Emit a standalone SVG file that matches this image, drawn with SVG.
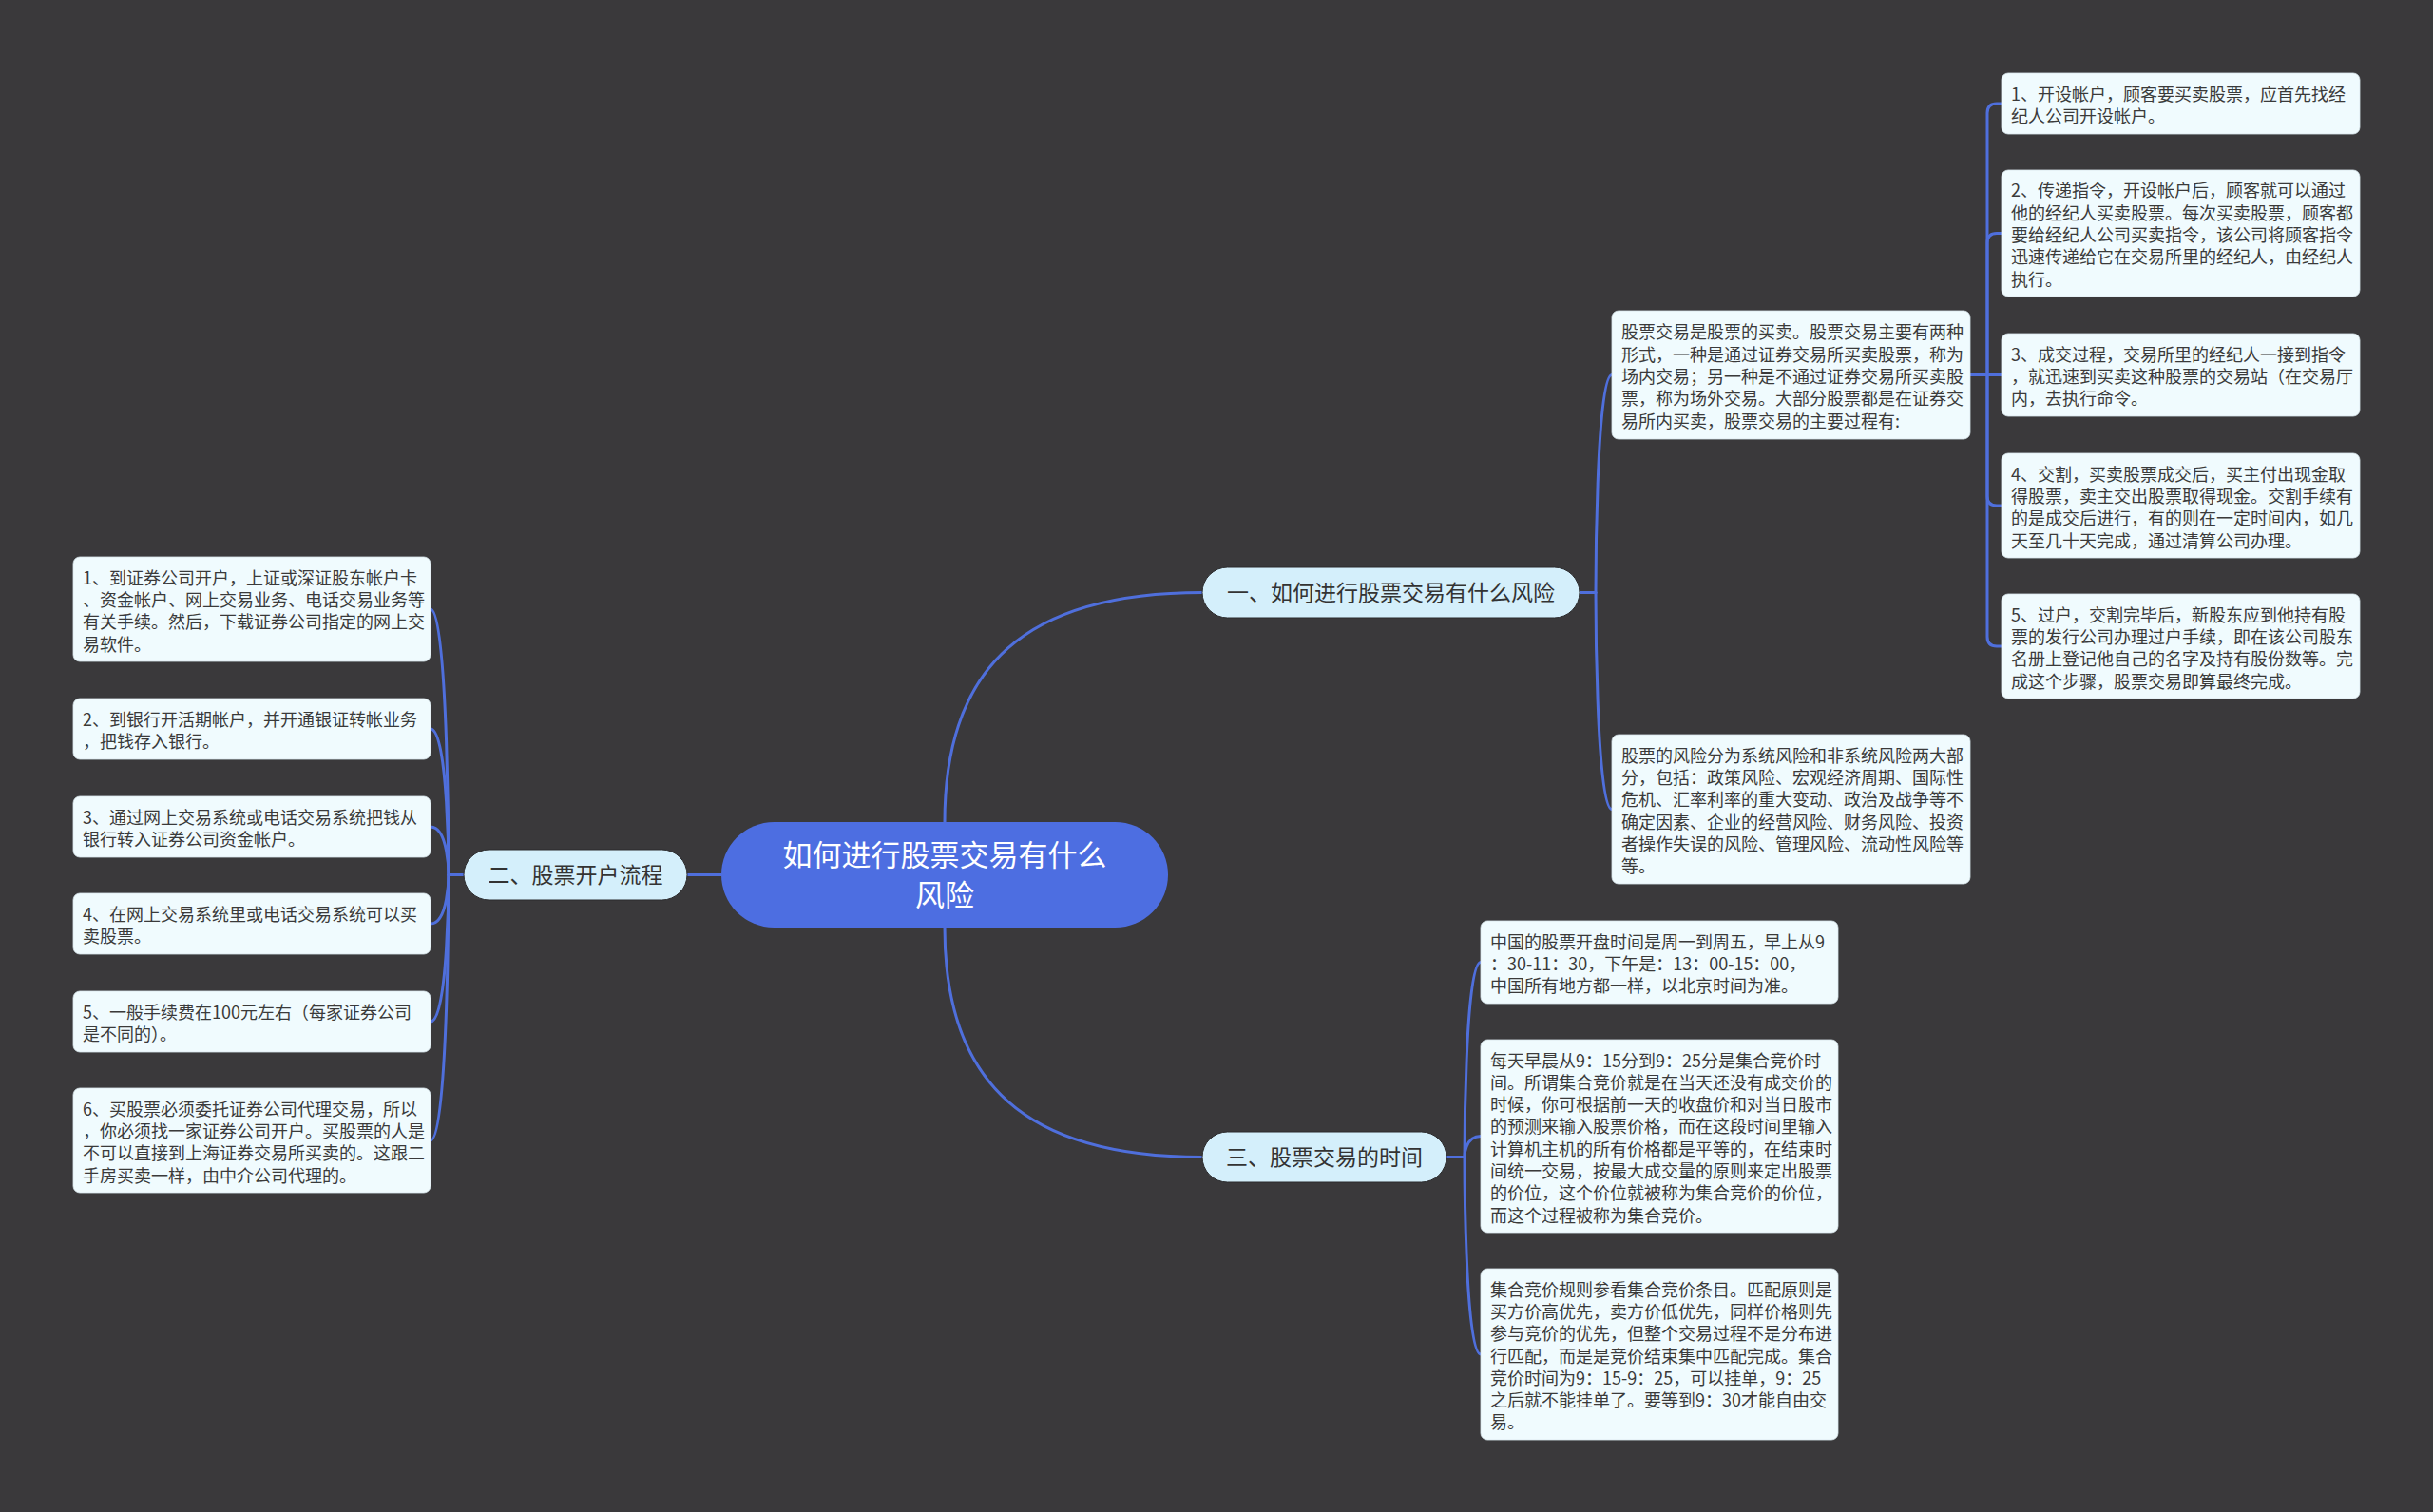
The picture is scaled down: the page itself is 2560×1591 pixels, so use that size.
<svg xmlns="http://www.w3.org/2000/svg" width="2560" height="1591" viewBox="0 0 2560 1591">
<style>
.bg{fill:#3a393b}
.ln{fill:none;stroke:#4f6fdc;stroke-width:3;stroke-linecap:round}
.leaf{fill:#f0fbfe;stroke:#d8e6ec;stroke-width:0.8}
.br{fill:#d4effb;stroke:#2a2a2c;stroke-width:1}
.ctr{fill:#4d6ee1}
.lt{font-family:"Noto Sans CJK SC","Noto Sans",sans-serif;font-size:18px;fill:#3a3a3a}
.bt{font-family:"Noto Sans CJK SC","Noto Sans",sans-serif;font-size:23px;fill:#333;text-anchor:middle}
.ct{font-family:"Noto Sans CJK SC","Noto Sans",sans-serif;font-size:31px;fill:#ffffff;text-anchor:middle}
</style>
<rect class="bg" x="0" y="0" width="2560" height="1591"/>

<g id="connectors">
  <path class="ln" d="M759 920.5 H723"/>
  <path class="ln" d="M994 865 C994 700 1080 623.5 1265 623.5"/>
  <path class="ln" d="M994 976 C994 1141 1080 1217.5 1265 1217.5"/>
  <path class="ln" d="M488 920.5 H472"/>
  <path class="ln" d="M453 641 C472 641 472 920.5 472 920.5"/>
  <path class="ln" d="M453 767 C472 767 472 920.5 472 920.5"/>
  <path class="ln" d="M453 870 C472 870 472 920.5 472 920.5"/>
  <path class="ln" d="M453 972 C472 972 472 920.5 472 920.5"/>
  <path class="ln" d="M453 1075 C472 1075 472 920.5 472 920.5"/>
  <path class="ln" d="M453 1200 C472 1200 472 920.5 472 920.5"/>
  <path class="ln" d="M1662 623.5 H1679"/>
  <path class="ln" d="M1696 394.5 C1679 394.5 1679 623.5 1679 623.5"/>
  <path class="ln" d="M1696 851.5 C1679 851.5 1679 623.5 1679 623.5"/>
  <path class="ln" d="M1522 1217.5 H1541"/>
  <path class="ln" d="M1558 1012.5 C1541 1012.5 1541 1217.5 1541 1217.5"/>
  <path class="ln" d="M1558 1195.5 C1541 1195.5 1541 1217.5 1541 1217.5"/>
  <path class="ln" d="M1558 1425 C1541 1425 1541 1217.5 1541 1217.5"/>
  <path class="ln" d="M2073 394.5 H2106"/>
  <path class="ln" d="M2091 394.5 V119 Q2091 109 2101 109 H2106"/>
  <path class="ln" d="M2091 394.5 V255.5 Q2091 245.5 2101 245.5 H2106"/>
  <path class="ln" d="M2091 394.5 V522 Q2091 532 2101 532 H2106"/>
  <path class="ln" d="M2091 394.5 V670 Q2091 680 2101 680 H2106"/>
</g>

<g id="center">
  <rect class="ctr" x="759" y="865" width="470" height="111" rx="55.5"/>
  <text class="ct" x="994" y="910.5">如何进行股票交易有什么</text>
  <text class="ct" x="994" y="952.5">风险</text>
</g>

<g id="branch1">
  <rect class="br" x="1265" y="597" width="397" height="53" rx="26.5"/>
  <text class="bt" x="1463.5" y="632">一、如何进行股票交易有什么风险</text>
</g>
<g id="branch2">
  <rect class="br" x="488" y="894" width="235" height="53" rx="26.5"/>
  <text class="bt" x="605.5" y="929">二、股票开户流程</text>
</g>
<g id="branch3">
  <rect class="br" x="1265" y="1191" width="257" height="53" rx="26.5"/>
  <text class="bt" x="1393.5" y="1226">三、股票交易的时间</text>
</g>

<g id="node-a">
  <rect class="leaf" x="1696" y="327" width="377" height="135" rx="7"/>
  <text class="lt" x="1706" y="356.4">
    <tspan x="1706">股票交易是股票的买卖。股票交易主要有两种</tspan>
    <tspan x="1706" dy="23.3">形式，一种是通过证券交易所买卖股票，称为</tspan>
    <tspan x="1706" dy="23.3">场内交易；另一种是不通过证券交易所买卖股</tspan>
    <tspan x="1706" dy="23.3">票，称为场外交易。大部分股票都是在证券交</tspan>
    <tspan x="1706" dy="23.3">易所内买卖，股票交易的主要过程有:</tspan>
  </text>
</g>
<g id="node-b">
  <rect class="leaf" x="1696" y="773" width="377" height="157" rx="7"/>
  <text class="lt" x="1706" y="801.8">
    <tspan x="1706">股票的风险分为系统风险和非系统风险两大部</tspan>
    <tspan x="1706" dy="23.3">分，包括：政策风险、宏观经济周期、国际性</tspan>
    <tspan x="1706" dy="23.3">危机、汇率利率的重大变动、政治及战争等不</tspan>
    <tspan x="1706" dy="23.3">确定因素、企业的经营风险、财务风险、投资</tspan>
    <tspan x="1706" dy="23.3">者操作失误的风险、管理风险、流动性风险等</tspan>
    <tspan x="1706" dy="23.3">等。</tspan>
  </text>
</g>

<g id="node-r1">
  <rect class="leaf" x="2106" y="77" width="377" height="64" rx="7"/>
  <text class="lt" x="2116" y="105.9">
    <tspan x="2116">1、开设帐户，顾客要买卖股票，应首先找经</tspan>
    <tspan x="2116" dy="23.3">纪人公司开设帐户。</tspan>
  </text>
</g>
<g id="node-r2">
  <rect class="leaf" x="2106" y="179" width="377" height="133" rx="7"/>
  <text class="lt" x="2116" y="207.4">
    <tspan x="2116">2、传递指令，开设帐户后，顾客就可以通过</tspan>
    <tspan x="2116" dy="23.3">他的经纪人买卖股票。每次买卖股票，顾客都</tspan>
    <tspan x="2116" dy="23.3">要给经纪人公司买卖指令，该公司将顾客指令</tspan>
    <tspan x="2116" dy="23.3">迅速传递给它在交易所里的经纪人，由经纪人</tspan>
    <tspan x="2116" dy="23.3">执行。</tspan>
  </text>
</g>
<g id="node-r3">
  <rect class="leaf" x="2106" y="351" width="377" height="87" rx="7"/>
  <text class="lt" x="2116" y="379.7">
    <tspan x="2116">3、成交过程，交易所里的经纪人一接到指令</tspan>
    <tspan x="2116" dy="23.3">，就迅速到买卖这种股票的交易站（在交易厅</tspan>
    <tspan x="2116" dy="23.3">内，去执行命令。</tspan>
  </text>
</g>
<g id="node-r4">
  <rect class="leaf" x="2106" y="477" width="377" height="110" rx="7"/>
  <text class="lt" x="2116" y="505.6">
    <tspan x="2116">4、交割，买卖股票成交后，买主付出现金取</tspan>
    <tspan x="2116" dy="23.3">得股票，卖主交出股票取得现金。交割手续有</tspan>
    <tspan x="2116" dy="23.3">的是成交后进行，有的则在一定时间内，如几</tspan>
    <tspan x="2116" dy="23.3">天至几十天完成，通过清算公司办理。</tspan>
  </text>
</g>
<g id="node-r5">
  <rect class="leaf" x="2106" y="625" width="377" height="110" rx="7"/>
  <text class="lt" x="2116" y="653.6">
    <tspan x="2116">5、过户，交割完毕后，新股东应到他持有股</tspan>
    <tspan x="2116" dy="23.3">票的发行公司办理过户手续，即在该公司股东</tspan>
    <tspan x="2116" dy="23.3">名册上登记他自己的名字及持有股份数等。完</tspan>
    <tspan x="2116" dy="23.3">成这个步骤，股票交易即算最终完成。</tspan>
  </text>
</g>

<g id="node-t1">
  <rect class="leaf" x="1558" y="969" width="376" height="87" rx="7"/>
  <text class="lt" x="1568" y="997.7">
    <tspan x="1568">中国的股票开盘时间是周一到周五，早上从9</tspan>
    <tspan x="1568" dy="23.3">：30-11：30，下午是：13：00-15：00，</tspan>
    <tspan x="1568" dy="23.3">中国所有地方都一样，以北京时间为准。</tspan>
  </text>
</g>
<g id="node-t2">
  <rect class="leaf" x="1558" y="1094" width="376" height="203" rx="7"/>
  <text class="lt" x="1568" y="1122.5">
    <tspan x="1568">每天早晨从9：15分到9：25分是集合竞价时</tspan>
    <tspan x="1568" dy="23.3">间。所谓集合竞价就是在当天还没有成交价的</tspan>
    <tspan x="1568" dy="23.3">时候，你可根据前一天的收盘价和对当日股市</tspan>
    <tspan x="1568" dy="23.3">的预测来输入股票价格，而在这段时间里输入</tspan>
    <tspan x="1568" dy="23.3">计算机主机的所有价格都是平等的，在结束时</tspan>
    <tspan x="1568" dy="23.3">间统一交易，按最大成交量的原则来定出股票</tspan>
    <tspan x="1568" dy="23.3">的价位，这个价位就被称为集合竞价的价位，</tspan>
    <tspan x="1568" dy="23.3">而这个过程被称为集合竞价。</tspan>
  </text>
</g>
<g id="node-t3">
  <rect class="leaf" x="1558" y="1335" width="376" height="180" rx="7"/>
  <text class="lt" x="1568" y="1363.6">
    <tspan x="1568">集合竞价规则参看集合竞价条目。匹配原则是</tspan>
    <tspan x="1568" dy="23.3">买方价高优先，卖方价低优先，同样价格则先</tspan>
    <tspan x="1568" dy="23.3">参与竞价的优先，但整个交易过程不是分布进</tspan>
    <tspan x="1568" dy="23.3">行匹配，而是是竞价结束集中匹配完成。集合</tspan>
    <tspan x="1568" dy="23.3">竞价时间为9：15-9：25，可以挂单，9：25</tspan>
    <tspan x="1568" dy="23.3">之后就不能挂单了。要等到9：30才能自由交</tspan>
    <tspan x="1568" dy="23.3">易。</tspan>
  </text>
</g>

<g id="node-l1">
  <rect class="leaf" x="77" y="586" width="376" height="110" rx="7"/>
  <text class="lt" x="87" y="614.6">
    <tspan x="87">1、到证券公司开户，上证或深证股东帐户卡</tspan>
    <tspan x="87" dy="23.3">、资金帐户、网上交易业务、电话交易业务等</tspan>
    <tspan x="87" dy="23.3">有关手续。然后，下载证券公司指定的网上交</tspan>
    <tspan x="87" dy="23.3">易软件。</tspan>
  </text>
</g>
<g id="node-l2">
  <rect class="leaf" x="77" y="735" width="376" height="64" rx="7"/>
  <text class="lt" x="87" y="763.9">
    <tspan x="87">2、到银行开活期帐户，并开通银证转帐业务</tspan>
    <tspan x="87" dy="23.3">，把钱存入银行。</tspan>
  </text>
</g>
<g id="node-l3">
  <rect class="leaf" x="77" y="838" width="376" height="64" rx="7"/>
  <text class="lt" x="87" y="866.9">
    <tspan x="87">3、通过网上交易系统或电话交易系统把钱从</tspan>
    <tspan x="87" dy="23.3">银行转入证券公司资金帐户。</tspan>
  </text>
</g>
<g id="node-l4">
  <rect class="leaf" x="77" y="940" width="376" height="64" rx="7"/>
  <text class="lt" x="87" y="968.9">
    <tspan x="87">4、在网上交易系统里或电话交易系统可以买</tspan>
    <tspan x="87" dy="23.3">卖股票。</tspan>
  </text>
</g>
<g id="node-l5">
  <rect class="leaf" x="77" y="1043" width="376" height="64" rx="7"/>
  <text class="lt" x="87" y="1071.9">
    <tspan x="87">5、一般手续费在100元左右（每家证券公司</tspan>
    <tspan x="87" dy="23.3">是不同的）。</tspan>
  </text>
</g>
<g id="node-l6">
  <rect class="leaf" x="77" y="1145" width="376" height="110" rx="7"/>
  <text class="lt" x="87" y="1173.6">
    <tspan x="87">6、买股票必须委托证券公司代理交易，所以</tspan>
    <tspan x="87" dy="23.3">，你必须找一家证券公司开户。买股票的人是</tspan>
    <tspan x="87" dy="23.3">不可以直接到上海证券交易所买卖的。这跟二</tspan>
    <tspan x="87" dy="23.3">手房买卖一样，由中介公司代理的。</tspan>
  </text>
</g>
</svg>
